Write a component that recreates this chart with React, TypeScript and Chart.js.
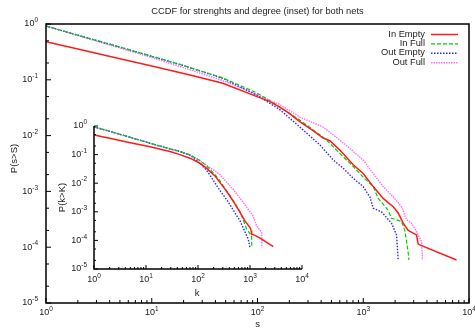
import React, { useEffect, useRef } from "react";
import { Chart, registerables } from "chart.js";
Chart.register(...registerables);

const TITLE = "CCDF for strenghts and degree (inset) for both nets";
const X_LABEL = "s";
const Y_LABEL = "P(s>S)";
const INSET_X_LABEL = "k";
const INSET_Y_LABEL = "P(k>K)";
const seriesNames = ["In Empty", "In Full", "Out Empty", "Out Full"];
const seriesColors = ["#ff1a1a", "#00d000", "#2a2aff", "#ff6cff"];
const seriesDash: number[][] = [[], [4, 2], [1.5, 1.5], [1.5, 1]];
const seriesWidth = [1.5, 1.2, 1.4, 1.4];

const mainXTicks = [1, 10, 100, 1000, 10000];
const mainXTickLabels = ["0", "1", "2", "3", "4"];
const mainYTicks = [1, 0.1, 0.01, 0.001, 0.0001, 0.00001];
const mainYTickLabels = ["0", "-1", "-2", "-3", "-4", "-5"];

// Main plot: strengths s
const inEmptyS = [1, 2, 5, 10, 23, 47, 99, 130, 163, 200, 251, 330, 415, 483, 601, 804, 998, 1242, 1543, 1918, 2140, 2385, 2660, 3190, 3300, 3425, 7620];
const inEmptyP = [0.48, 0.356, 0.238, 0.176, 0.122, 0.0865, 0.05, 0.041, 0.032, 0.025, 0.0178, 0.0125, 0.0091, 0.0081, 0.0055, 0.003, 0.0021, 0.00122, 0.00075, 0.00053, 0.00041, 0.00027, 0.0002, 0.000166, 0.000115, 0.00011, 0.000059];
const inFullS = [1, 2, 5, 10, 20, 47, 99, 163, 251, 415, 450, 601, 804, 998, 1242, 1384, 1720, 1850, 2300, 2473, 2660, 2700];
const inFullP = [0.92, 0.63, 0.386, 0.264, 0.18, 0.108, 0.058, 0.0326, 0.019, 0.0094, 0.0083, 0.0048, 0.0028, 0.0018, 0.00122, 0.00075, 0.00046, 0.00033, 0.00029, 0.0002, 0.00008, 0.000059];
const outEmptyS = [1, 2, 5, 10, 20, 47, 99, 163, 251, 389, 520, 646, 804, 998, 1154, 1242, 1490, 1850, 2065, 2140];
const outEmptyP = [0.92, 0.63, 0.386, 0.264, 0.18, 0.106, 0.053, 0.029, 0.0143, 0.0068, 0.00366, 0.0026, 0.00172, 0.00122, 0.0008, 0.0005, 0.00043, 0.00027, 0.000166, 0.000059];
const outFullS = [1, 2, 5, 10, 20, 47, 99, 163, 251, 415, 601, 804, 998, 1242, 1543, 1918, 2300, 2565, 2860, 3190, 3560, 3630];
const outFullP = [0.92, 0.62, 0.37, 0.25, 0.165, 0.097, 0.054, 0.036, 0.0215, 0.0143, 0.0083, 0.0052, 0.00366, 0.0021, 0.00122, 0.0008, 0.00053, 0.00031, 0.00027, 0.00019, 0.000126, 0.000059];

// Inset: degrees k
const inEmptyK = [1, 2, 5, 12, 30, 45, 70, 109, 147, 212, 265, 331, 412, 513, 643, 797, 1000, 1050, 1075, 1250, 1680, 2800];
const inEmptyKP = [0.49, 0.37, 0.26, 0.187, 0.125, 0.1, 0.075, 0.05, 0.033, 0.018, 0.0105, 0.0062, 0.0035, 0.0019, 0.00095, 0.00048, 0.00028, 0.00022, 0.000165, 0.00015, 0.00011, 0.00006];
const inFullK = [1, 2, 5, 12, 30, 45, 70, 109, 147, 212, 265, 331, 412, 513, 643, 863, 1000, 1075, 1080];
const inFullKP = [0.93, 0.65, 0.4, 0.25, 0.155, 0.13, 0.098, 0.062, 0.04, 0.02, 0.012, 0.0065, 0.0037, 0.002, 0.001, 0.00025, 0.00017, 0.00015, 0.000056];
const outEmptyK = [1, 2, 5, 12, 30, 45, 70, 109, 147, 183, 265, 355, 643, 927, 1000];
const outEmptyKP = [0.93, 0.65, 0.4, 0.25, 0.155, 0.128, 0.096, 0.05, 0.028, 0.0155, 0.0055, 0.0027, 0.00048, 0.00011, 0.000056];
const outFullK = [1, 2, 5, 12, 30, 45, 70, 109, 147, 212, 265, 307, 478, 745, 1150, 1340, 1680, 1690];
const outFullKP = [0.93, 0.65, 0.4, 0.25, 0.154, 0.128, 0.097, 0.061, 0.042, 0.027, 0.02, 0.0145, 0.006, 0.0021, 0.0007, 0.00032, 0.00019, 0.000056];

const FONT = "'Liberation Sans', Arial, Helvetica, sans-serif";
const TEXT = "#222";

function pts(xs: number[], ys: number[]) {
  return xs.map((x, i) => ({ x, y: ys[i] }));
}

function makeDatasets(list: { x: number; y: number }[][]) {
  return list.map((data, i) => ({
    label: seriesNames[i],
    data,
    borderColor: seriesColors[i],
    borderWidth: seriesWidth[i],
    borderDash: seriesDash[i],
    pointRadius: 0,
    fill: false,
    tension: 0,
  }));
}

function drawPow(ctx: CanvasRenderingContext2D, exp: string, x: number, y: number, align: "center" | "right") {
  ctx.save();
  ctx.fillStyle = TEXT;
  ctx.textBaseline = "middle";
  ctx.textAlign = "left";
  ctx.font = `9px ${FONT}`;
  const wb = ctx.measureText("10").width;
  ctx.font = `6.5px ${FONT}`;
  const we = ctx.measureText(exp).width;
  const total = wb + we;
  const x0 = align === "center" ? x - total / 2 : x - total;
  ctx.font = `9px ${FONT}`;
  ctx.fillText("10", x0, y);
  ctx.font = `6.5px ${FONT}`;
  ctx.fillText(exp, x0 + wb, y - 3.5);
  ctx.restore();
}

function drawAxesTicks(
  chart: any,
  opts: { box: boolean; yMinor: number[]; xLabelDy: number; yLabelDx: number; majorLen: number; minorLen: number }
) {
  const ctx: CanvasRenderingContext2D = chart.ctx;
  const { left, right, top, bottom } = chart.chartArea;
  const xs = chart.scales.x;
  const ys = chart.scales.y;
  ctx.save();
  ctx.strokeStyle = "#000";
  ctx.lineWidth = 1.5;
  ctx.beginPath();
  if (opts.box) {
    ctx.rect(left, top, right - left, bottom - top);
  } else {
    ctx.moveTo(left, top);
    ctx.lineTo(left, bottom);
    ctx.lineTo(right, bottom);
  }
  ctx.stroke();
  ctx.lineWidth = 1;
  ctx.beginPath();
  for (let d = 0; d <= 4; d++) {
    const base = Math.pow(10, d);
    const px = xs.getPixelForValue(base);
    ctx.moveTo(px, bottom);
    ctx.lineTo(px, bottom - opts.majorLen);
    if (d < 4) {
      for (let m = 2; m <= 9; m++) {
        const p = xs.getPixelForValue(base * m);
        ctx.moveTo(p, bottom);
        ctx.lineTo(p, bottom - opts.minorLen);
      }
    }
  }
  for (let d = 0; d <= 5; d++) {
    const base = Math.pow(10, -d);
    const py = ys.getPixelForValue(base);
    ctx.moveTo(left, py);
    ctx.lineTo(left + opts.majorLen, py);
    if (d < 5) {
      for (const m of opts.yMinor) {
        const p = ys.getPixelForValue((base * m) / 10);
        ctx.moveTo(left, p);
        ctx.lineTo(left + opts.minorLen, p);
      }
    }
  }
  ctx.stroke();
  ctx.restore();
  mainXTicks.forEach((v, i) => {
    drawPow(ctx, mainXTickLabels[i], xs.getPixelForValue(v), bottom + opts.xLabelDy, "center");
  });
  mainYTicks.forEach((v, i) => {
    drawPow(ctx, mainYTickLabels[i], left - opts.yLabelDx, ys.getPixelForValue(v), "right");
  });
}

const mainPlugin = {
  id: "mainDecor",
  afterDatasetsDraw(chart: any) {
    const ctx: CanvasRenderingContext2D = chart.ctx;
    const { left, right, top, bottom } = chart.chartArea;
    drawAxesTicks(chart, { box: true, yMinor: [2, 5], xLabelDy: 10, yLabelDx: 8, majorLen: 5, minorLen: 3 });
    ctx.save();
    ctx.fillStyle = TEXT;
    ctx.font = `9.3px ${FONT}`;
    ctx.textAlign = "center";
    ctx.textBaseline = "middle";
    ctx.fillText(TITLE, (left + right) / 2, 11);
    ctx.font = `9.5px ${FONT}`;
    ctx.fillText(X_LABEL, (left + right) / 2, 324);
    ctx.save();
    ctx.translate(14, (top + bottom) / 2 - 5);
    ctx.rotate(-Math.PI / 2);
    ctx.fillText(Y_LABEL, 0, 0);
    ctx.restore();
    const rows = [34, 43.3, 52.7, 62.3];
    ctx.font = `9.3px ${FONT}`;
    ctx.textAlign = "right";
    seriesNames.forEach((name, i) => {
      ctx.fillStyle = TEXT;
      ctx.fillText(name, 425, rows[i]);
      ctx.strokeStyle = seriesColors[i];
      ctx.lineWidth = seriesWidth[i];
      ctx.setLineDash(seriesDash[i]);
      ctx.beginPath();
      ctx.moveTo(431, rows[i] + 0.5);
      ctx.lineTo(458, rows[i] + 0.5);
      ctx.stroke();
      ctx.setLineDash([]);
    });
    ctx.restore();
  },
};

const insetPlugin = {
  id: "insetDecor",
  afterDatasetsDraw(chart: any) {
    const ctx: CanvasRenderingContext2D = chart.ctx;
    const { top, bottom } = chart.chartArea;
    drawAxesTicks(chart, { box: false, yMinor: [2, 5], xLabelDy: 11, yLabelDx: 7, majorLen: 4, minorLen: 2 });
    ctx.save();
    ctx.fillStyle = TEXT;
    ctx.font = `9.5px ${FONT}`;
    ctx.textAlign = "center";
    ctx.textBaseline = "middle";
    ctx.fillText(INSET_X_LABEL, 197, 293);
    ctx.translate(62, (top + bottom) / 2);
    ctx.rotate(-Math.PI / 2);
    ctx.fillText(INSET_Y_LABEL, 0, 0);
    ctx.restore();
  },
};

function baseOptions(padding: any) {
  return {
    responsive: false,
    animation: false as const,
    devicePixelRatio: 1,
    events: [] as any[],
    layout: { padding },
    plugins: { legend: { display: false }, title: { display: false }, tooltip: { enabled: false } },
    scales: {
      x: { type: "logarithmic" as const, min: 1, max: 10000, display: false },
      y: { type: "logarithmic" as const, min: 0.00001, max: 1, display: false },
    },
  };
}

export default function App() {
  const mainRef = useRef<HTMLCanvasElement>(null);
  const insetRef = useRef<HTMLCanvasElement>(null);

  useEffect(() => {
    const main = new Chart(mainRef.current!, {
      type: "line",
      data: {
        datasets: makeDatasets([
          pts(inEmptyS, inEmptyP),
          pts(inFullS, inFullP),
          pts(outEmptyS, outEmptyP),
          pts(outFullS, outFullP),
        ]) as any,
      },
      options: baseOptions({ left: 46, right: 6, top: 24, bottom: 28 }) as any,
      plugins: [mainPlugin],
    });
    const inset = new Chart(insetRef.current!, {
      type: "line",
      data: {
        datasets: makeDatasets([
          pts(inEmptyK, inEmptyKP),
          pts(inFullK, inFullKP),
          pts(outEmptyK, outEmptyKP),
          pts(outFullK, outFullKP),
        ]) as any,
      },
      options: baseOptions({ left: 94, right: 173, top: 126, bottom: 62 }) as any,
      plugins: [insetPlugin],
    });
    return () => {
      main.destroy();
      inset.destroy();
    };
  }, []);

  return (
    <div style={{ position: "absolute", left: 0, top: 0, width: 475, height: 331, background: "#fff" }}>
      <canvas ref={mainRef} width={475} height={331} style={{ position: "absolute", left: 0, top: 0 }} />
      <canvas ref={insetRef} width={475} height={331} style={{ position: "absolute", left: 0, top: 0 }} />
    </div>
  );
}
